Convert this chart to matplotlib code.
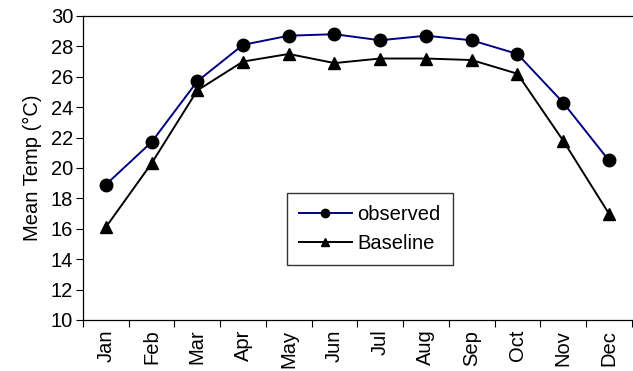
import matplotlib
matplotlib.use("Agg")
import matplotlib.pyplot as plt
import numpy as np
from matplotlib.lines import Line2D

months = ["Jan", "Feb", "Mar", "Apr", "May", "Jun", "Jul", "Aug", "Sep", "Oct", "Nov", "Dec"]
observed = [18.9, 21.7, 25.7, 28.1, 28.7, 28.8, 28.4, 28.7, 28.4, 27.5, 24.3, 20.5]
baseline = [16.1, 20.3, 25.1, 27.0, 27.5, 26.9, 27.2, 27.2, 27.1, 26.2, 21.8, 17.0]
yticks = [10, 12, 14, 16, 18, 20, 22, 24, 26, 28, 30]

plt.rcParams['font.family'] = ['Liberation Sans', 'DejaVu Sans']
FS = 14.5

fig = plt.figure(figsize=(6.33, 3.71), dpi=100)
ax = fig.add_axes([0.131, 0.1375, 0.867, 0.8195])

x = np.arange(len(months))
ax.plot(x, observed, color="#000080", lw=1.4, marker="o", ms=9,
        mfc="black", mec="black", zorder=3)
ax.plot(x, baseline, color="black", lw=1.4, marker="^", ms=9,
        mfc="black", mec="black", zorder=3)

ax.set_xlim(-0.5, len(months) - 0.5)
ax.set_ylim(10, 30)
ax.set_yticks(yticks)
ax.set_yticklabels([str(v) for v in yticks], fontsize=FS)
ax.set_xticks(x)
ax.set_xticklabels(months, rotation=90, fontsize=FS)
ax.tick_params(axis='x', which='major', length=0, pad=7)
ax.set_xticks(np.arange(-0.5, len(months), 1), minor=True)
ax.tick_params(axis='x', which='minor', length=5, direction='out', width=0.8)
ax.tick_params(axis='y', length=5, direction='out', width=0.8, pad=2)
ax.set_ylabel("Mean Temp (°C)", fontsize=FS, labelpad=6)

ax.spines['right'].set_visible(False)
for s in ['left', 'bottom', 'top']:
    ax.spines[s].set_linewidth(0.9)

handles = [
    Line2D([], [], color="#000080", lw=1.4, marker="o", ms=6, mfc="black", mec="black"),
    Line2D([], [], color="black", lw=1.4, marker="^", ms=6, mfc="black", mec="black"),
]
leg = ax.legend(handles, ["observed", "Baseline"], loc="upper left",
                bbox_to_anchor=(0.372, 0.418), fontsize=FS, frameon=True,
                fancybox=False, edgecolor="black", handlelength=2.6,
                borderpad=0.6, labelspacing=0.5, handletextpad=0.3,
                borderaxespad=0)
leg.get_frame().set_linewidth(1.0)

fig.savefig("out.png", dpi=100)
